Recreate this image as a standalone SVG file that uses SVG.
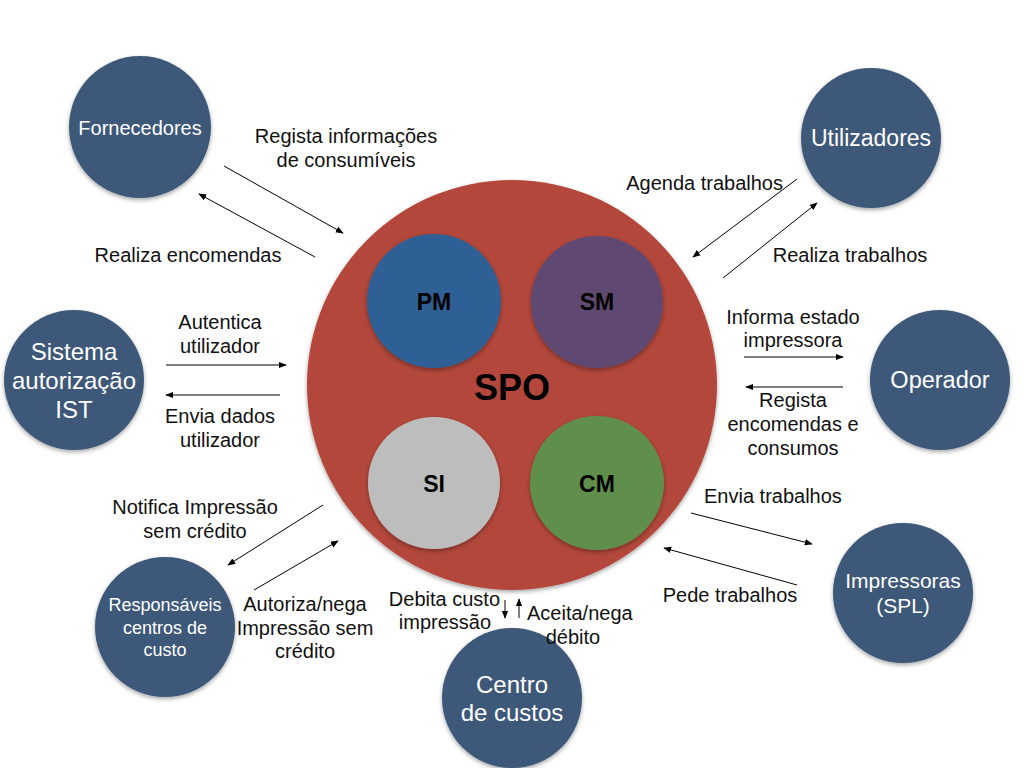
<svg xmlns="http://www.w3.org/2000/svg" width="1024" height="768" viewBox="0 0 1024 768">
<style>
.node{fill:#3c5878;filter:url(#sh)}
.nl{fill:#fff;font-family:"Liberation Sans",Arial,sans-serif;text-anchor:middle}
.lb{fill:#111;font-family:"Liberation Sans",Arial,sans-serif;font-size:20px;text-anchor:middle}
.st{text-anchor:start}
.en{text-anchor:end}
.in{font-family:"Liberation Sans",Arial,sans-serif;font-weight:bold;fill:#000;text-anchor:middle}
.c{stroke:#000;stroke-width:1;fill:none;marker-end:url(#ah)}
</style>
<defs>
<filter id="sh" x="-20%" y="-20%" width="140%" height="140%">
<feDropShadow dx="0" dy="2" stdDeviation="2" flood-color="#000" flood-opacity="0.35"/>
</filter>
<marker id="ah" viewBox="0 0 10 10" refX="9" refY="5" markerWidth="8" markerHeight="8" markerUnits="userSpaceOnUse" orient="auto">
<path d="M0,1 L10,5 L0,9 z" fill="#000"/>
</marker>
</defs>
<rect width="1024" height="768" fill="#fff"/>

<g id="spo">
<circle cx="512" cy="385" r="205" fill="#b3463a" filter="url(#sh)"/>
<text class="in" x="512" y="400" font-size="36">SPO</text>
</g>
<g id="pm">
<circle cx="434" cy="301" r="67" fill="#2f6195" filter="url(#sh)"/>
<text class="in" x="434" y="310" font-size="23">PM</text>
</g>
<g id="sm">
<circle cx="597" cy="302" r="66" fill="#5e4a72" filter="url(#sh)"/>
<text class="in" x="597" y="310" font-size="23">SM</text>
</g>
<g id="si">
<circle cx="434" cy="483" r="66" fill="#bdbdbd" filter="url(#sh)"/>
<text class="in" x="434" y="492" font-size="23">SI</text>
</g>
<g id="cm">
<circle cx="597" cy="483" r="67" fill="#5f8f4b" filter="url(#sh)"/>
<text class="in" x="597" y="492" font-size="23">CM</text>
</g>

<g id="fornecedores">
<circle class="node" cx="140" cy="127" r="71"/>
<text class="nl" x="140" y="135" font-size="20">Fornecedores</text>
</g>
<g id="utilizadores">
<circle class="node" cx="871" cy="138" r="70"/>
<text class="nl" x="871" y="146" font-size="23">Utilizadores</text>
</g>
<g id="sistema">
<circle class="node" cx="74" cy="380" r="70"/>
<text class="nl" x="74" y="360" font-size="24">Sistema</text>
<text class="nl" x="74" y="389" font-size="24">autorização</text>
<text class="nl" x="74" y="418" font-size="24">IST</text>
</g>
<g id="operador">
<circle class="node" cx="940" cy="380" r="70"/>
<text class="nl" x="940" y="388" font-size="23.5">Operador</text>
</g>
<g id="responsaveis">
<circle class="node" cx="165" cy="627" r="70"/>
<text class="nl" x="165" y="611" font-size="18">Responsáveis</text>
<text class="nl" x="165" y="634" font-size="18">centros de</text>
<text class="nl" x="165" y="656" font-size="18">custo</text>
</g>
<g id="centro">
<circle class="node" cx="512" cy="698" r="70"/>
<text class="nl" x="512" y="693" font-size="24">Centro</text>
<text class="nl" x="512" y="721" font-size="24">de custos</text>
</g>
<g id="impressoras">
<circle class="node" cx="903" cy="593" r="70"/>
<text class="nl" x="903" y="588" font-size="21">Impressoras</text>
<text class="nl" x="903" y="613" font-size="21">(SPL)</text>
</g>

<g id="connectors">
<line class="c" x1="224" y1="166" x2="343" y2="233"/>
<line class="c" x1="315" y1="257" x2="199" y2="194"/>
<line class="c" x1="797" y1="179" x2="693" y2="257"/>
<line class="c" x1="723" y1="278" x2="817" y2="203"/>
<line class="c" x1="166" y1="365" x2="286" y2="365"/>
<line class="c" x1="280" y1="395" x2="166" y2="395"/>
<line class="c" x1="744" y1="357" x2="843" y2="357"/>
<line class="c" x1="843" y1="387" x2="746" y2="387"/>
<line class="c" x1="323" y1="505" x2="228" y2="565"/>
<line class="c" x1="254" y1="590" x2="338" y2="541"/>
<line class="c" x1="505" y1="600" x2="505" y2="618"/>
<line class="c" x1="519" y1="618" x2="519" y2="599"/>
<line class="c" x1="691" y1="513" x2="812" y2="544"/>
<line class="c" x1="797" y1="585" x2="664" y2="548"/>
</g>

<g id="labels">
<text class="lb" x="346" y="143">Regista informações</text>
<text class="lb" x="346" y="167">de consumíveis</text>
<text class="lb" x="188" y="262">Realiza encomendas</text>
<text class="lb en" x="783" y="190">Agenda trabalhos</text>
<text class="lb" x="850" y="262">Realiza trabalhos</text>
<text class="lb" x="220" y="329">Autentica</text>
<text class="lb" x="220" y="353">utilizador</text>
<text class="lb" x="220" y="423">Envia dados</text>
<text class="lb" x="220" y="447">utilizador</text>
<text class="lb" x="793" y="324">Informa estado</text>
<text class="lb" x="793" y="347">impressora</text>
<text class="lb" x="793" y="407">Regista</text>
<text class="lb" x="793" y="431">encomendas e</text>
<text class="lb" x="793" y="455">consumos</text>
<text class="lb" x="195" y="514">Notifica Impressão</text>
<text class="lb" x="195" y="538">sem crédito</text>
<text class="lb" x="305" y="611">Autoriza/nega</text>
<text class="lb" x="305" y="635">Impressão sem</text>
<text class="lb" x="305" y="658">crédito</text>
<text class="lb en" x="500" y="606">Debita custo</text>
<text class="lb" x="445" y="629">impressão</text>
<text class="lb st" x="527" y="620">Aceita/nega</text>
<text class="lb" x="573" y="644">débito</text>
<text class="lb st" x="704" y="503">Envia trabalhos</text>
<text class="lb" x="730" y="602">Pede trabalhos</text>
</g>
</svg>
